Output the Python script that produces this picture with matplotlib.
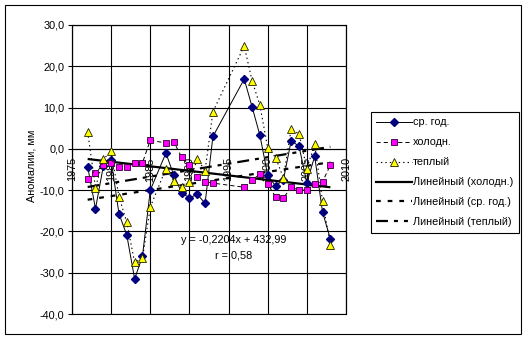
import numpy as np
import matplotlib
matplotlib.use("Agg")
import matplotlib.pyplot as plt
from matplotlib.patches import Rectangle
from matplotlib.lines import Line2D

plt.rcParams['font.family'] = ['Liberation Sans', 'DejaVu Sans']
plt.rcParams['lines.scale_dashes'] = False

years = [1977, 1978, 1979, 1980, 1981, 1982, 1983, 1984, 1985,
         1987, 1988, 1989, 1990, 1991, 1992, 1993,
         1997, 1998, 1999, 2000, 2001, 2002, 2003, 2004, 2005, 2006, 2007, 2008]
annual = [-4.3, -14.5, -4.2, -2.8, -15.7, -20.9, -31.5, -26.0, -10.0,
          -1.0, -6.4, -10.6, -11.9, -11.0, -13.2, 3.0,
          16.9, 10.2, 3.3, -6.4, -9.0, -7.5, 2.0, 0.6, -8.2, -1.8, -15.3, -21.8]
cold = [-7.4, -5.8, -3.8, -3.4, -4.4, -4.3, -3.4, -3.4, 2.1,
        1.4, 1.7, -2.0, -4.0, -6.7, -8.0, -8.3,
        -9.3, -7.6, -6.1, -8.5, -11.6, -11.9, -9.3, -10.0, -10.0, -8.5, -8.0, -3.9]
warm = [4.1, -9.4, -2.5, -0.6, -11.6, -17.8, -27.5, -26.5, -14.1,
        -4.8, -7.7, -9.3, -8.0, -2.5, -5.3, 9.0,
        24.9, 16.5, 10.6, 0.2, -2.1, -7.0, 4.8, 3.6, -4.8, 1.1, -12.7, -23.3]

xticks = [1975, 1980, 1985, 1990, 1995, 2000, 2005, 2010]
xticklabels = ['1975', '1980', '1985', '1990', '1995', '2000', '2005', '2010']
yticks = [-40, -30, -20, -10, 0, 10, 20, 30]
yticklabels = ['-40,0', '-30,0', '-20,0', '-10,0', '0,0', '10,0', '20,0', '30,0']
series_names = ['ср. год.', 'холодн.', 'теплый']
trend_names = ['Линейный (холодн.)', 'Линейный (ср. год.)', 'Линейный (теплый)']
eq_text = 'y = -0,2204x + 432,99'
r_text = 'r = 0,58'
ylabel = 'Аномалии, мм'

W, H = 528, 339
fig = plt.figure(figsize=(W / 100, H / 100), dpi=100)
fs = 7.8

ax = fig.add_axes([72 / W, 25 / H, 274 / W, 289 / H])
ax.spines['bottom'].set_position(('data', 0))
ax.set_xlim(1975, 2010)
ax.set_ylim(-40, 30)
ax.set_axisbelow(True)

x = np.array(years, dtype=float)

# series
ax.plot(years, annual, color='black', lw=0.7, marker='D', ms=3.7,
        mfc='#000080', mec='#000080', zorder=3)
ax.plot(years, cold, color='black', lw=0.7, ls=(0, (3.0, 2.2)), marker='s', ms=4.6,
        mfc='#FF00FF', mec='#300030', mew=0.6, zorder=3)
ax.plot(years, warm, color='black', lw=0.8, ls=(0, (1.0, 2.2)), marker='^', ms=5.2,
        mfc='#FFFF00', mec='#202000', mew=0.6, zorder=3)

# trend lines
xr = np.array([min(years), max(years)], dtype=float)
c_cold = np.polyfit(x, cold, 1)
c_ann = np.polyfit(x, annual, 1)
c_warm = np.polyfit(x, warm, 1)
trend_styles = ['-', (0, (3.4, 5.0)), (0, (8.6, 4.3, 2.9, 4.3, 2.9, 4.3))]
for c, st in zip([c_cold, c_ann, c_warm], trend_styles):
    ax.plot(xr, np.polyval(c, xr), color='black', lw=1.6, ls=st, zorder=2.5,
            solid_capstyle='butt', dash_capstyle='butt')

# axes
ax.set_xticks(xticks)
ax.set_xticklabels(xticklabels, fontsize=fs)
ax.set_yticks(yticks)
ax.set_yticklabels(yticklabels, fontsize=fs)
for s in ax.spines.values():
    s.set_linewidth(0.8)
    s.set_color('black')
ax.tick_params(axis='x', length=0, pad=6, colors='black', labelrotation=90)
ax.tick_params(axis='y', length=3, width=0.8, pad=2.5, colors='black', direction='out')
ax.grid(True, color='black', lw=0.8)
ax.add_patch(Rectangle((0, 0), 1, 1, transform=ax.transAxes, fill=False,
                       lw=0.8, ec='black', clip_on=False, zorder=5))

ax.text(1995.7, -22.1, eq_text, ha='center', va='center', fontsize=fs, zorder=4)
ax.text(1995.6, -25.8, r_text, ha='center', va='center', fontsize=fs, zorder=4)

fig.text(32 / W, 1 - 166 / H, ylabel, rotation=90, ha='center', va='center', fontsize=fs)

# legend
handles = [
    Line2D([], [], color='black', lw=0.7, marker='D', ms=3.7, mfc='#000080', mec='#000080'),
    Line2D([], [], color='black', lw=0.7, ls=(0, (3.0, 2.2)), marker='s', ms=4.6,
           mfc='#FF00FF', mec='#300030', mew=0.6),
    Line2D([], [], color='black', lw=0.8, ls=(0, (1.0, 2.2)), marker='^', ms=5.2,
           mfc='#FFFF00', mec='#202000', mew=0.6),
    Line2D([], [], color='black', lw=1.6, ls=trend_styles[0]),
    Line2D([], [], color='black', lw=1.6, ls=trend_styles[1]),
    Line2D([], [], color='black', lw=1.6, ls=trend_styles[2]),
]
leg = fig.legend(handles, series_names + trend_names, loc='upper left',
                 bbox_to_anchor=(371 / W, 1 - 112 / H), borderaxespad=0,
                 fontsize=fs, frameon=True, fancybox=False, framealpha=1,
                 edgecolor='black', handlelength=3.3, handletextpad=0.1,
                 labelspacing=0.92, borderpad=0.5, numpoints=1)
leg.get_frame().set_linewidth(0.8)

# chart border
fig.patches.append(Rectangle((5 / W, 5 / H), 516 / W, 329 / H, transform=fig.transFigure,
                             fill=False, ec='black', lw=0.8))

fig.savefig('out.png', dpi=100)
